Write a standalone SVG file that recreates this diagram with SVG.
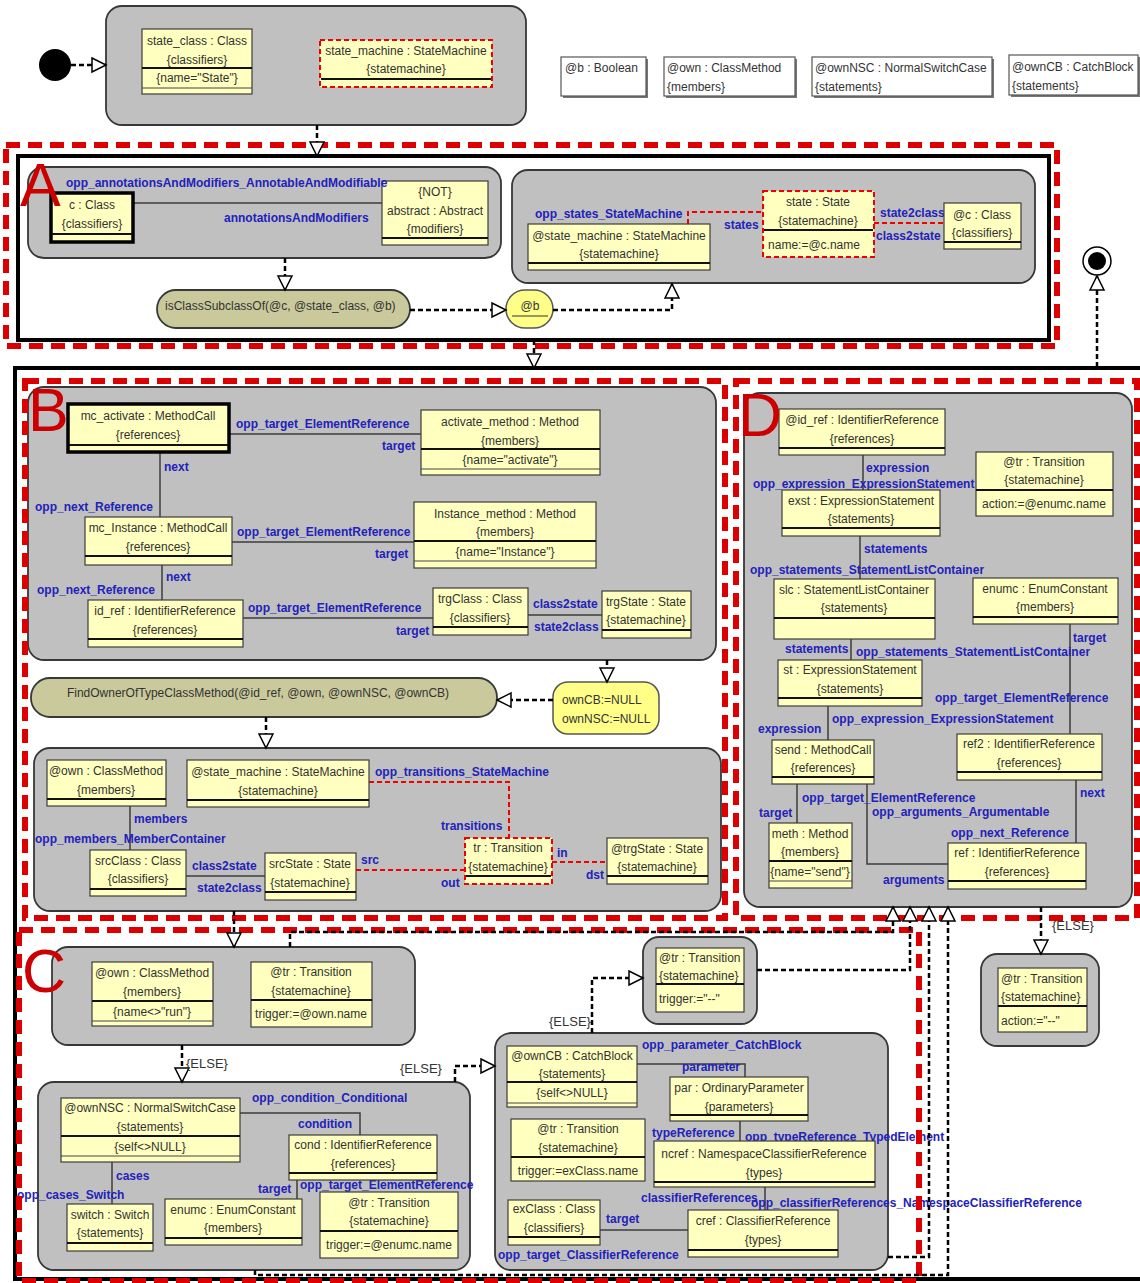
<svg xmlns="http://www.w3.org/2000/svg" width="1140" height="1283" viewBox="0 0 1140 1283">
<style>
.grp{fill:#c0c0c0;stroke:#383838;stroke-width:1.8}
.obj{fill:#ffffbf;stroke:#3c3c3c;stroke-width:1.2}
.thk{fill:#ffffbf;stroke:#000;stroke-width:3.5}
.red{fill:#ffffbf;stroke:#f00000;stroke-width:2;stroke-dasharray:5 3}
.sep{stroke:#111;stroke-width:2.2}
.sep1{stroke:#444;stroke-width:1}
.t{font-family:"Liberation Sans",Arial,Helvetica,sans-serif;font-size:12px;fill:#333;text-anchor:middle}
.tl{font-family:"Liberation Sans",Arial,Helvetica,sans-serif;font-size:12px;fill:#333}
.lb{font-family:"Liberation Sans",Arial,Helvetica,sans-serif;font-size:12px;font-weight:bold;fill:#2222bb}
.els{font-family:"Liberation Sans",Arial,Helvetica,sans-serif;font-size:13px;fill:#333}
.ln{stroke:#3c3c3c;stroke-width:1.5;fill:none}
.rln{stroke:#f00000;stroke-width:2;stroke-dasharray:5 3;fill:none}
.flow{stroke:#000;stroke-width:2.5;stroke-dasharray:5 3;fill:none;marker-end:url(#tri)}
.reg{stroke:#dd0000;stroke-width:6;stroke-dasharray:14 8;fill:none}
.frm{stroke:#000;stroke-width:4;fill:none}
.let{font-family:"Liberation Sans",Arial,Helvetica,sans-serif;font-size:61px;fill:#cc0000}
.pill{fill:#c9c99b;stroke:#383838;stroke-width:1.8}
.yel{fill:#ffff88;stroke:#555;stroke-width:1.5}
.leg{fill:#fff;stroke:#555;stroke-width:1.2}
</style>
<defs>
<marker id="tri" markerUnits="userSpaceOnUse" markerWidth="18" markerHeight="18" refX="15" refY="8" orient="auto">
<path d="M1,1 L15,8 L1,15 Z" fill="#fff" stroke="#000" stroke-width="1.5"/>
</marker>
</defs>

<!-- start and end states -->
<g id="initial"><circle cx="55" cy="65" r="16" fill="#000"/></g>
<g id="final"><circle cx="1097" cy="261" r="14" fill="#fff" stroke="#000" stroke-width="1.5"/><circle cx="1097" cy="261" r="9" fill="#000"/></g>

<!-- header pattern -->
<g id="start_box">
<rect class="grp" x="106" y="6" width="420" height="119" rx="16"/>
<g id="state_class">
<rect class="obj" x="142" y="29" width="110" height="65"/>
<text class="t" x="197" y="45">state_class : Class</text>
<text class="t" x="197" y="64">{classifiers}</text>
<line class="sep" x1="142" y1="68" x2="252" y2="68"/>
<text class="t" x="197" y="82">{name="State"}</text>
<line class="sep1" x1="142" y1="88" x2="252" y2="88"/>
</g>
<g id="state_machine">
<rect class="red" x="320" y="40" width="172" height="47"/>
<text class="t" x="406" y="55">state_machine : StateMachine</text>
<text class="t" x="406" y="73">{statemachine}</text>
<line class="sep" x1="321" y1="79" x2="491" y2="79"/>
</g>
</g>

<!-- variable declarations -->
<g id="var_b"><rect x="563" y="59" width="85" height="39" fill="#777"/><rect class="leg" x="561" y="57" width="85" height="39"/><text class="tl" x="565" y="72">@b : Boolean</text></g>
<g id="var_own"><rect x="666" y="59" width="131" height="39" fill="#777"/><rect class="leg" x="664" y="57" width="131" height="39"/><text class="tl" x="667" y="72">@own : ClassMethod</text><text class="tl" x="667" y="91">{members}</text></g>
<g id="var_ownNSC"><rect x="814" y="59" width="180" height="39" fill="#777"/><rect class="leg" x="812" y="57" width="180" height="39"/><text class="tl" x="815" y="72">@ownNSC : NormalSwitchCase</text><text class="tl" x="815" y="91">{statements}</text></g>
<g id="var_ownCB"><rect x="1011" y="57" width="129" height="40" fill="#777"/><rect class="leg" x="1009" y="55" width="129" height="40"/><text class="tl" x="1012" y="71">@ownCB : CatchBlock</text><text class="tl" x="1012" y="90">{statements}</text></g>

<!-- region A -->
<g id="region_A">
<g id="A_modifiers">
<rect class="grp" x="28" y="167" width="473" height="91" rx="16"/>
<line class="ln" x1="133" y1="203" x2="382" y2="203"/>
<text class="lb" x="224" y="222">annotationsAndModifiers</text>
<g id="c_class">
<rect class="thk" x="51" y="193" width="82" height="49"/>
<text class="t" x="92" y="209">c : Class</text>
<text class="t" x="92" y="228">{classifiers}</text>
<line class="sep" x1="52" y1="234" x2="132" y2="234"/>
</g>
<g id="abstract">
<rect class="obj" x="382" y="181" width="106" height="64"/>
<text class="t" x="435" y="196">{NOT}</text>
<text class="t" x="435" y="215">abstract : Abstract</text>
<text class="t" x="435" y="233">{modifiers}</text>
<line class="sep" x1="382" y1="238" x2="488" y2="238"/>
</g>
<text class="lb" x="66" y="187">opp_annotationsAndModifiers_AnnotableAndModifiable</text>
</g>
<g id="isClassSubclassOf">
<rect class="pill" x="157" y="290" width="253" height="38" rx="19"/>
<text class="tl" x="165" y="310">isClassSubclassOf(@c, @state_class, @b)</text>
</g>
<g id="b_choice">
<rect class="yel" x="506" y="290" width="47" height="38" rx="19"/>
<text class="t" x="530" y="310">@b</text>
<line x1="512" y1="316" x2="548" y2="316" stroke="#333" stroke-width="1"/>
</g>
<g id="A_states">
<rect class="grp" x="512" y="170" width="523" height="113" rx="16"/>
<polyline class="rln" points="688,224 688,212 763,212"/>
<line class="rln" x1="874" y1="223" x2="944" y2="223"/>
<text class="lb" x="535" y="218">opp_states_StateMachine</text>
<text class="lb" x="724" y="229">states</text>
<text class="lb" x="880" y="217">state2class</text>
<text class="lb" x="876" y="240">class2state</text>
<g id="at_state_machine">
<rect class="obj" x="528" y="224" width="182" height="46"/>
<text class="t" x="619" y="240">@state_machine : StateMachine</text>
<text class="t" x="619" y="258">{statemachine}</text>
<line class="sep" x1="528" y1="263" x2="710" y2="263"/>
</g>
<g id="state">
<rect class="red" x="763" y="191" width="111" height="66"/>
<text class="t" x="818" y="206">state : State</text>
<text class="t" x="818" y="225">{statemachine}</text>
<line class="sep" x1="764" y1="230" x2="873" y2="230"/>
<text class="t" x="814" y="249">name:=@c.name</text>
</g>
<g id="at_c_class">
<rect class="obj" x="944" y="203" width="77" height="46"/>
<text class="t" x="982" y="219">@c : Class</text>
<text class="t" x="982" y="237">{classifiers}</text>
<line class="sep" x1="944" y1="242" x2="1021" y2="242"/>
</g>
</g>
</g>

<!-- region B -->
<g id="region_B">
<g id="B_references">
<rect class="grp" x="28" y="387" width="688" height="273" rx="16"/>
<line class="ln" x1="229" y1="434" x2="421" y2="434"/>
<line class="ln" x1="160" y1="452" x2="160" y2="517"/>
<line class="ln" x1="232" y1="542" x2="414" y2="542"/>
<line class="ln" x1="162" y1="565" x2="162" y2="600"/>
<line class="ln" x1="243" y1="618" x2="433" y2="618"/>
<line class="ln" x1="528" y1="615" x2="602" y2="615"/>
<text class="lb" x="236" y="428">opp_target_ElementReference</text>
<text class="lb" x="382" y="450">target</text>
<text class="lb" x="164" y="471">next</text>
<text class="lb" x="35" y="511">opp_next_Reference</text>
<text class="lb" x="237" y="536">opp_target_ElementReference</text>
<text class="lb" x="375" y="558">target</text>
<text class="lb" x="166" y="581">next</text>
<text class="lb" x="37" y="594">opp_next_Reference</text>
<text class="lb" x="248" y="612">opp_target_ElementReference</text>
<text class="lb" x="396" y="635">target</text>
<text class="lb" x="533" y="608">class2state</text>
<text class="lb" x="534" y="631">state2class</text>
<g id="mc_activate">
<rect class="thk" x="68" y="404" width="161" height="48"/>
<text class="t" x="148" y="420">mc_activate : MethodCall</text>
<text class="t" x="148" y="439">{references}</text>
<line class="sep" x1="69" y1="445" x2="228" y2="445"/>
</g>
<g id="activate_method">
<rect class="obj" x="421" y="410" width="179" height="65"/>
<text class="t" x="510" y="426">activate_method : Method</text>
<text class="t" x="510" y="445">{members}</text>
<line class="sep" x1="421" y1="449" x2="600" y2="449"/>
<text class="t" x="510" y="464">{name="activate"}</text>
<line class="sep1" x1="421" y1="469" x2="600" y2="469"/>
</g>
<g id="mc_Instance">
<rect class="obj" x="85" y="517" width="147" height="48"/>
<text class="t" x="158" y="532">mc_Instance : MethodCall</text>
<text class="t" x="158" y="551">{references}</text>
<line class="sep" x1="85" y1="556" x2="232" y2="556"/>
</g>
<g id="Instance_method">
<rect class="obj" x="414" y="502" width="182" height="66"/>
<text class="t" x="505" y="518">Instance_method : Method</text>
<text class="t" x="505" y="536">{members}</text>
<line class="sep" x1="414" y1="541" x2="596" y2="541"/>
<text class="t" x="505" y="556">{name="Instance"}</text>
<line class="sep1" x1="414" y1="561" x2="596" y2="561"/>
</g>
<g id="id_ref">
<rect class="obj" x="88" y="600" width="155" height="47"/>
<text class="t" x="165" y="615">id_ref : IdentifierReference</text>
<text class="t" x="165" y="634">{references}</text>
<line class="sep" x1="88" y1="639" x2="243" y2="639"/>
</g>
<g id="trgClass">
<rect class="obj" x="433" y="588" width="95" height="47"/>
<text class="t" x="480" y="603">trgClass : Class</text>
<text class="t" x="480" y="622">{classifiers}</text>
<line class="sep" x1="433" y1="627" x2="528" y2="627"/>
</g>
<g id="trgState">
<rect class="obj" x="602" y="591" width="89" height="47"/>
<text class="t" x="646" y="606">trgState : State</text>
<text class="t" x="646" y="624">{statemachine}</text>
<line class="sep" x1="602" y1="630" x2="691" y2="630"/>
</g>
</g>
<g id="null_assign">
<rect class="yel" x="553" y="682" width="106" height="52" rx="15"/>
<text class="tl" x="562" y="704">ownCB:=NULL</text>
<text class="tl" x="562" y="723">ownNSC:=NULL</text>
</g>
<g id="FindOwner">
<rect class="pill" x="31" y="678" width="466" height="39" rx="19"/>
<text class="t" x="258" y="697">FindOwnerOfTypeClassMethod(@id_ref, @own, @ownNSC, @ownCB)</text>
</g>
<g id="B_transition">
<rect class="grp" x="34" y="748" width="687" height="163" rx="16"/>
<polyline class="rln" points="369,782 509,782 509,838"/>
<line class="ln" x1="130" y1="806" x2="130" y2="850"/>
<line class="ln" x1="186" y1="876" x2="265" y2="876"/>
<line class="rln" x1="356" y1="870" x2="465" y2="870"/>
<line class="rln" x1="552" y1="862" x2="607" y2="862"/>
<text class="lb" x="375" y="776">opp_transitions_StateMachine</text>
<text class="lb" x="441" y="830">transitions</text>
<text class="lb" x="134" y="823">members</text>
<text class="lb" x="35" y="843">opp_members_MemberContainer</text>
<text class="lb" x="192" y="870">class2state</text>
<text class="lb" x="197" y="892">state2class</text>
<text class="lb" x="361" y="864">src</text>
<text class="lb" x="441" y="887">out</text>
<text class="lb" x="557" y="857">in</text>
<text class="lb" x="586" y="879">dst</text>
<g id="at_own">
<rect class="obj" x="47" y="760" width="119" height="46"/>
<text class="t" x="106" y="775">@own : ClassMethod</text>
<text class="t" x="106" y="794">{members}</text>
<line class="sep" x1="47" y1="799" x2="166" y2="799"/>
</g>
<g id="at_state_machine_2">
<rect class="obj" x="187" y="760" width="182" height="47"/>
<text class="t" x="278" y="776">@state_machine : StateMachine</text>
<text class="t" x="278" y="795">{statemachine}</text>
<line class="sep" x1="187" y1="800" x2="369" y2="800"/>
</g>
<g id="srcClass">
<rect class="obj" x="90" y="850" width="96" height="46"/>
<text class="t" x="138" y="865">srcClass : Class</text>
<text class="t" x="138" y="883">{classifiers}</text>
<line class="sep" x1="90" y1="889" x2="186" y2="889"/>
</g>
<g id="srcState">
<rect class="obj" x="265" y="853" width="91" height="47"/>
<text class="t" x="310" y="868">srcState : State</text>
<text class="t" x="310" y="887">{statemachine}</text>
<line class="sep" x1="265" y1="892" x2="356" y2="892"/>
</g>
<g id="tr">
<rect class="red" x="465" y="838" width="87" height="46"/>
<text class="t" x="508" y="852">tr : Transition</text>
<text class="t" x="508" y="871">{statemachine}</text>
<line class="sep" x1="466" y1="876" x2="551" y2="876"/>
</g>
<g id="at_trgState">
<rect class="obj" x="607" y="838" width="101" height="46"/>
<text class="t" x="657" y="853">@trgState : State</text>
<text class="t" x="657" y="871">{statemachine}</text>
<line class="sep" x1="607" y1="876" x2="708" y2="876"/>
</g>
</g>
</g>

<!-- region C -->
<g id="region_C">
<g id="C_guard">
<rect class="grp" x="52" y="947" width="363" height="98" rx="16"/>
<g id="at_own_run">
<rect class="obj" x="92" y="962" width="121" height="64"/>
<text class="t" x="152" y="977">@own : ClassMethod</text>
<text class="t" x="152" y="996">{members}</text>
<line class="sep" x1="92" y1="1001" x2="213" y2="1001"/>
<text class="t" x="152" y="1016">{name&lt;&gt;"run"}</text>
<line class="sep1" x1="92" y1="1021" x2="213" y2="1021"/>
</g>
<g id="tr_trigger_own">
<rect class="obj" x="251" y="962" width="121" height="65"/>
<text class="t" x="311" y="976">@tr : Transition</text>
<text class="t" x="311" y="995">{statemachine}</text>
<line class="sep" x1="251" y1="1000" x2="372" y2="1000"/>
<text class="t" x="311" y="1018">trigger:=@own.name</text>
</g>
</g>
<g id="C_switch">
<rect class="grp" x="38" y="1082" width="432" height="188" rx="16"/>
<polyline class="ln" points="240,1113 360,1113 360,1135"/>
<line class="ln" x1="112" y1="1162" x2="112" y2="1204"/>
<line class="ln" x1="297" y1="1180" x2="297" y2="1199"/>
<text class="lb" x="252" y="1102">opp_condition_Conditional</text>
<text class="lb" x="298" y="1128">condition</text>
<text class="lb" x="116" y="1180">cases</text>
<text class="lb" x="17" y="1199">opp_cases_Switch</text>
<text class="lb" x="258" y="1193">target</text>
<text class="lb" x="300" y="1189">opp_target_ElementReference</text>
<g id="at_ownNSC">
<rect class="obj" x="61" y="1098" width="179" height="64"/>
<text class="t" x="150" y="1112">@ownNSC : NormalSwitchCase</text>
<text class="t" x="150" y="1131">{statements}</text>
<line class="sep" x1="61" y1="1136" x2="240" y2="1136"/>
<text class="t" x="150" y="1151">{self&lt;&gt;NULL}</text>
<line class="sep1" x1="61" y1="1156" x2="240" y2="1156"/>
</g>
<g id="cond">
<rect class="obj" x="289" y="1135" width="148" height="45"/>
<text class="t" x="363" y="1149">cond : IdentifierReference</text>
<text class="t" x="363" y="1168">{references}</text>
<line class="sep" x1="289" y1="1173" x2="437" y2="1173"/>
</g>
<g id="switch">
<rect class="obj" x="67" y="1204" width="86" height="47"/>
<text class="t" x="110" y="1219">switch : Switch</text>
<text class="t" x="110" y="1237">{statements}</text>
<line class="sep" x1="67" y1="1243" x2="153" y2="1243"/>
</g>
<g id="enumc">
<rect class="obj" x="165" y="1199" width="137" height="46"/>
<text class="t" x="233" y="1214">enumc : EnumConstant</text>
<text class="t" x="233" y="1232">{members}</text>
<line class="sep" x1="165" y1="1238" x2="302" y2="1238"/>
</g>
<g id="tr_trigger_enumc">
<rect class="obj" x="320" y="1192" width="138" height="66"/>
<text class="t" x="389" y="1207">@tr : Transition</text>
<text class="t" x="389" y="1225">{statemachine}</text>
<line class="sep" x1="320" y1="1231" x2="458" y2="1231"/>
<text class="t" x="389" y="1249">trigger:=@enumc.name</text>
</g>
</g>
<g id="C_catch">
<rect class="grp" x="495" y="1033" width="393" height="237" rx="16"/>
<polyline class="ln" points="637,1064 745,1064 745,1077"/>
<line class="ln" x1="740" y1="1121" x2="740" y2="1141"/>
<line class="ln" x1="765" y1="1187" x2="765" y2="1210"/>
<line class="ln" x1="600" y1="1230" x2="688" y2="1230"/>
<text class="lb" x="642" y="1049">opp_parameter_CatchBlock</text>
<text class="lb" x="682" y="1071">parameter</text>
<text class="lb" x="652" y="1137">typeReference</text>
<text class="lb" x="745" y="1141">opp_typeReference_TypedElement</text>
<text class="lb" x="641" y="1202">classifierReferences</text>
<text class="lb" x="751" y="1207">opp_classifierReferences_NamespaceClassifierReference</text>
<text class="lb" x="606" y="1223">target</text>
<text class="lb" x="498" y="1259">opp_target_ClassifierReference</text>
<g id="at_ownCB">
<rect class="obj" x="507" y="1046" width="130" height="61"/>
<text class="t" x="572" y="1060">@ownCB : CatchBlock</text>
<text class="t" x="572" y="1078">{statements}</text>
<line class="sep" x1="507" y1="1082" x2="637" y2="1082"/>
<text class="t" x="572" y="1097">{self&lt;&gt;NULL}</text>
<line class="sep1" x1="507" y1="1103" x2="637" y2="1103"/>
</g>
<g id="par">
<rect class="obj" x="670" y="1077" width="138" height="44"/>
<text class="t" x="739" y="1092">par : OrdinaryParameter</text>
<text class="t" x="739" y="1111">{parameters}</text>
<line class="sep" x1="670" y1="1115" x2="808" y2="1115"/>
</g>
<g id="tr_trigger_exClass">
<rect class="obj" x="511" y="1119" width="134" height="62"/>
<text class="t" x="578" y="1133">@tr : Transition</text>
<text class="t" x="578" y="1152">{statemachine}</text>
<line class="sep" x1="511" y1="1157" x2="645" y2="1157"/>
<text class="t" x="578" y="1175">trigger:=exClass.name</text>
</g>
<g id="ncref">
<rect class="obj" x="654" y="1141" width="221" height="46"/>
<text class="t" x="764" y="1158">ncref : NamespaceClassifierReference</text>
<text class="t" x="764" y="1177">{types}</text>
<line class="sep" x1="654" y1="1182" x2="875" y2="1182"/>
</g>
<g id="exClass">
<rect class="obj" x="508" y="1200" width="92" height="45"/>
<text class="t" x="554" y="1213">exClass : Class</text>
<text class="t" x="554" y="1232">{classifiers}</text>
<line class="sep" x1="508" y1="1237" x2="600" y2="1237"/>
</g>
<g id="cref">
<rect class="obj" x="688" y="1210" width="150" height="47"/>
<text class="t" x="763" y="1225">cref : ClassifierReference</text>
<text class="t" x="763" y="1244">{types}</text>
<line class="sep" x1="688" y1="1250" x2="838" y2="1250"/>
</g>
</g>
<g id="C_default">
<rect class="grp" x="643" y="937" width="114" height="87" rx="16"/>
<g id="tr_trigger_none">
<rect class="obj" x="656" y="948" width="88" height="64"/>
<text class="tl" x="659" y="962">@tr : Transition</text>
<text class="tl" x="659" y="980">{statemachine}</text>
<line class="sep" x1="656" y1="984" x2="744" y2="984"/>
<text class="tl" x="659" y="1003">trigger:="--"</text>
</g>
</g>
</g>

<!-- region D -->
<g id="region_D">
<g id="D_call">
<rect class="grp" x="744" y="393" width="388" height="514" rx="16"/>
<line class="ln" x1="863" y1="455" x2="863" y2="490"/>
<line class="ln" x1="860" y1="536" x2="860" y2="579"/>
<line class="ln" x1="851" y1="639" x2="851" y2="660"/>
<line class="ln" x1="1070" y1="624" x2="1070" y2="734"/>
<line class="ln" x1="828" y1="706" x2="828" y2="740"/>
<line class="ln" x1="797" y1="784" x2="797" y2="823"/>
<polyline class="ln" points="867,784 867,864 948,864"/>
<line class="ln" x1="1076" y1="780" x2="1076" y2="843"/>
<text class="lb" x="866" y="472">expression</text>
<text class="lb" x="753" y="488">opp_expression_ExpressionStatement</text>
<text class="lb" x="864" y="553">statements</text>
<text class="lb" x="750" y="574">opp_statements_StatementListContainer</text>
<text class="lb" x="785" y="653">statements</text>
<text class="lb" x="856" y="656">opp_statements_StatementListContainer</text>
<text class="lb" x="1073" y="642">target</text>
<text class="lb" x="935" y="702">opp_target_ElementReference</text>
<text class="lb" x="758" y="733">expression</text>
<text class="lb" x="832" y="723">opp_expression_ExpressionStatement</text>
<text class="lb" x="802" y="802">opp_target_ElementReference</text>
<text class="lb" x="759" y="817">target</text>
<text class="lb" x="872" y="816">opp_arguments_Argumentable</text>
<text class="lb" x="1080" y="797">next</text>
<text class="lb" x="951" y="837">opp_next_Reference</text>
<text class="lb" x="883" y="884">arguments</text>
<g id="at_id_ref">
<rect class="obj" x="779" y="409" width="166" height="46"/>
<text class="t" x="862" y="424">@id_ref : IdentifierReference</text>
<text class="t" x="862" y="443">{references}</text>
<line class="sep" x1="779" y1="448" x2="945" y2="448"/>
</g>
<g id="exst">
<rect class="obj" x="782" y="490" width="158" height="46"/>
<text class="t" x="861" y="505">exst : ExpressionStatement</text>
<text class="t" x="861" y="523">{statements}</text>
<line class="sep" x1="782" y1="528" x2="940" y2="528"/>
</g>
<g id="tr_action_enumc">
<rect class="obj" x="976" y="452" width="137" height="64"/>
<text class="t" x="1044" y="466">@tr : Transition</text>
<text class="t" x="1044" y="484">{statemachine}</text>
<line class="sep" x1="976" y1="490" x2="1113" y2="490"/>
<text class="t" x="1044" y="508">action:=@enumc.name</text>
</g>
<g id="slc">
<rect class="obj" x="774" y="579" width="161" height="60"/>
<text class="t" x="854" y="594">slc : StatementListContainer</text>
<text class="t" x="854" y="612">{statements}</text>
<line class="sep" x1="774" y1="618" x2="935" y2="618"/>
</g>
<g id="enumc_D">
<rect class="obj" x="973" y="578" width="145" height="46"/>
<text class="t" x="1045" y="593">enumc : EnumConstant</text>
<text class="t" x="1045" y="611">{members}</text>
<line class="sep" x1="973" y1="617" x2="1118" y2="617"/>
</g>
<g id="st">
<rect class="obj" x="778" y="660" width="144" height="46"/>
<text class="t" x="850" y="674">st : ExpressionStatement</text>
<text class="t" x="850" y="693">{statements}</text>
<line class="sep" x1="778" y1="698" x2="922" y2="698"/>
</g>
<g id="send">
<rect class="obj" x="772" y="740" width="102" height="44"/>
<text class="t" x="823" y="754">send : MethodCall</text>
<text class="t" x="823" y="772">{references}</text>
<line class="sep" x1="772" y1="777" x2="874" y2="777"/>
</g>
<g id="ref2">
<rect class="obj" x="957" y="734" width="145" height="46"/>
<text class="t" x="1029" y="748">ref2 : IdentifierReference</text>
<text class="t" x="1029" y="767">{references}</text>
<line class="sep" x1="957" y1="772" x2="1102" y2="772"/>
</g>
<g id="meth">
<rect class="obj" x="769" y="823" width="83" height="65"/>
<text class="t" x="810" y="838">meth : Method</text>
<text class="t" x="810" y="856">{members}</text>
<line class="sep" x1="769" y1="861" x2="852" y2="861"/>
<text class="t" x="810" y="876">{name="send"}</text>
<line class="sep1" x1="769" y1="881" x2="852" y2="881"/>
</g>
<g id="ref">
<rect class="obj" x="948" y="843" width="138" height="46"/>
<text class="t" x="1017" y="857">ref : IdentifierReference</text>
<text class="t" x="1017" y="876">{references}</text>
<line class="sep" x1="948" y1="881" x2="1086" y2="881"/>
</g>
</g>
<g id="D_else">
<rect class="grp" x="981" y="954" width="118" height="92" rx="16"/>
<g id="tr_action_none">
<rect class="obj" x="998" y="968" width="89" height="64"/>
<text class="tl" x="1001" y="983">@tr : Transition</text>
<text class="tl" x="1001" y="1001">{statemachine}</text>
<line class="sep" x1="998" y1="1006" x2="1087" y2="1006"/>
<text class="tl" x="1001" y="1025">action:="--"</text>
</g>
</g>
</g>

<!-- region frames -->
<g id="frames">
<rect class="frm" x="18" y="156" width="1031" height="184"/>
<rect class="reg" x="6" y="145" width="1051" height="201"/>
<polyline class="frm" points="1145,368 15,368 15,1279 1145,1279"/>
<rect class="reg" x="25" y="381" width="700" height="537"/>
<rect class="reg" x="736" y="381" width="401" height="537"/>
<rect class="reg" x="19" y="930" width="900" height="351"/>
<text class="let" x="20" y="206">A</text>
<text class="let" x="28" y="431">B</text>
<text class="let" x="22" y="992">C</text>
<text class="let" x="738" y="436">D</text>
</g>

<!-- control flow -->
<g id="connectors">
<line class="flow" x1="71" y1="65" x2="106" y2="65"/>
<line class="flow" x1="317" y1="125" x2="317" y2="156"/>
<line class="flow" x1="285" y1="258" x2="285" y2="290"/>
<line class="flow" x1="410" y1="310" x2="506" y2="310"/>
<polyline class="flow" points="553,310 672,310 672,284"/>
<line class="flow" x1="534" y1="340" x2="534" y2="368"/>
<line class="flow" x1="1097" y1="367" x2="1097" y2="276"/>
<line class="flow" x1="607" y1="660" x2="607" y2="682"/>
<line class="flow" x1="553" y1="700" x2="497" y2="700"/>
<line class="flow" x1="266" y1="717" x2="266" y2="748"/>
<line class="flow" x1="234" y1="911" x2="234" y2="947"/>
<polyline class="flow" points="290,947 290,932 893,932 893,907"/>
<polyline class="flow" points="757,970 910,970 910,907"/>
<polyline class="flow" points="888,1257 929,1257 929,907"/>
<polyline class="flow" points="255,1270 255,1275 948,1275 948,907"/>
<line class="flow" x1="1041" y1="907" x2="1041" y2="954"/>
<line class="flow" x1="182" y1="1045" x2="182" y2="1082"/>
<polyline class="flow" points="455,1082 455,1066 495,1066"/>
<polyline class="flow" points="592,1033 592,978 643,978"/>
<text class="els" x="186" y="1068">{ELSE}</text>
<text class="els" x="400" y="1073">{ELSE}</text>
<text class="els" x="549" y="1026">{ELSE}</text>
<text class="els" x="1052" y="930" fill="#555">{ELSE}</text>
</g>
</svg>
